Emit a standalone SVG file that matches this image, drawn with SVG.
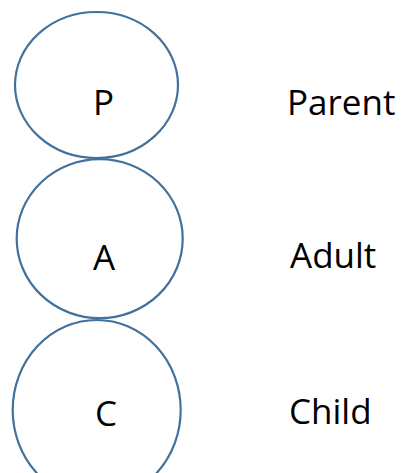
<svg xmlns="http://www.w3.org/2000/svg" width="401" height="473" viewBox="0 0 401 473">
<style>
.node{fill:#ffffff;stroke:#41719c;stroke-width:2.2}
.t{font-family:"Open Sans","Liberation Sans",sans-serif;font-size:35px;fill:#000000}
</style>
<rect width="401" height="473" fill="#ffffff"/>
<g id="connectors"></g>
<g id="node-P">
<ellipse class="node" cx="96.5" cy="85" rx="81.5" ry="73"/>
<text class="t" x="93" y="114.5">P</text>
</g>
<g id="node-A">
<ellipse class="node" cx="99.7" cy="238.7" rx="83" ry="79.5"/>
<text class="t" x="93" y="270">A</text>
</g>
<g id="node-C">
<ellipse class="node" cx="96.7" cy="410" rx="84" ry="90"/>
<text class="t" x="95" y="426">C</text>
</g>
<g id="labels">
<text class="t" x="287" y="115">Parent</text>
<text class="t" x="290" y="267.5">Adult</text>
<text class="t" x="289" y="423.5">Child</text>
</g>
</svg>
